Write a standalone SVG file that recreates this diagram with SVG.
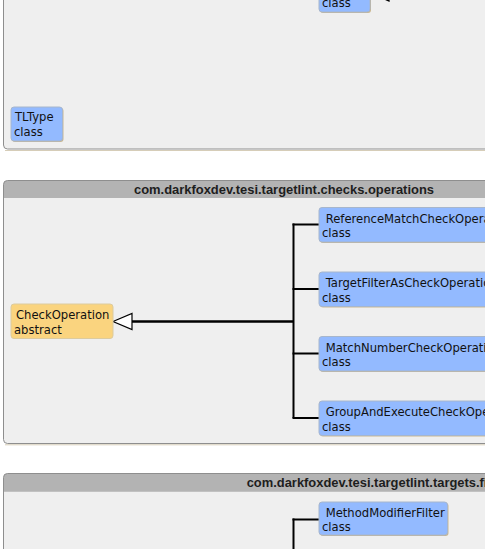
<svg xmlns="http://www.w3.org/2000/svg" width="485" height="549" viewBox="0 0 485 549">
  <defs>
    <style>
      .pkg-body { fill: #efefef; }
      .pkg-head { fill: #b3b3b3; }
      .pkg-frame { fill: none; stroke: #8e8e8e; stroke-width: 1; }
      .pkg-shadow { fill: none; stroke: #d6cdb8; stroke-width: 1; }
      .pkg-title { font-family: "Liberation Sans", "DejaVu Sans", sans-serif; font-weight: bold; font-size: 13px; fill: #1e1e1e; }
      .cls { fill: #93baff; stroke: #a7b6cc; stroke-width: 1; }
      .abs { fill: #fad47f; stroke: #dccb9e; stroke-width: 1; }
      .shadow { fill: #c9b791; }
      .label { font-family: "DejaVu Sans", "Liberation Sans", sans-serif; font-size: 11.6px; fill: #111; }
      .wire { fill: none; stroke: #000; stroke-width: 2; }
      .wire-main { fill: none; stroke: #000; stroke-width: 2.6; }
      .head { fill: #fff; stroke: #000; stroke-width: 1.2; stroke-linejoin: miter; }
    </style>
  </defs>

  <!-- package frames -->
  <g id="pkg-types">
    <path class="pkg-shadow" d="M5,150.5 H600"/>
    <rect class="pkg-body" x="3.5" y="-20" width="600" height="169" rx="4"/>
    <rect class="pkg-frame" x="3.5" y="-20" width="600" height="169" rx="4"/>
  </g>

  <g id="pkg-operations">
    <path class="pkg-shadow" d="M5,444.8 H600"/>
    <rect class="pkg-body" x="3.5" y="180.5" width="600" height="263" rx="4"/>
    <path class="pkg-head" d="M3.5,198 V184.5 A4,4 0 0 1 7.5,180.5 H603.5 V198 Z"/>
    <rect class="pkg-frame" x="3.5" y="180.5" width="600" height="263" rx="4"/>
    <text class="pkg-title" x="134" y="193.5" textLength="300" lengthAdjust="spacingAndGlyphs">com.darkfoxdev.tesi.targetlint.checks.operations</text>
  </g>

  <g id="pkg-filters">
    <rect class="pkg-body" x="3.5" y="473.5" width="600" height="120" rx="4"/>
    <path class="pkg-head" d="M3.5,491.7 V477.5 A4,4 0 0 1 7.5,473.5 H603.5 V491.7 Z"/>
    <rect class="pkg-frame" x="3.5" y="473.5" width="600" height="120" rx="4"/>
    <text class="pkg-title" x="246.7" y="487" textLength="268" lengthAdjust="spacingAndGlyphs">com.darkfoxdev.tesi.targetlint.targets.filters</text>
  </g>

  <!-- connectors -->
  <g id="connectors">
    <!-- inheritance head entering the top package off the edge -->
    <path class="wire" d="M389,-7 H420"/>
    <polygon class="head" points="370,-7 389,-15 389,1"/>

    <!-- CheckOperation subclasses -->
    <path class="wire" d="M293.5,223.5 V418"/>
    <path class="wire" d="M292.5,224.5 H319"/>
    <path class="wire" d="M292.5,289 H319"/>
    <path class="wire" d="M292.5,353.5 H319"/>
    <path class="wire" d="M292.5,418 H319"/>
    <path class="wire-main" d="M131,321.5 H294"/>
    <polygon class="head" points="113,321.5 132,313.5 132,329.5"/>

    <!-- filters trunk -->
    <path class="wire" d="M293.5,518.5 V560"/>
    <path class="wire" d="M292.5,519.5 H319"/>
  </g>

  <!-- nodes -->
  <g id="node-top-class">
    <rect class="shadow" x="320" y="-22" width="51" height="35" rx="3"/>
    <rect class="cls" x="319" y="-23" width="51" height="35" rx="3"/>
    <text class="label" x="322" y="6.5">class</text>
  </g>

  <g id="node-tltype">
    <rect class="shadow" x="12" y="108" width="51.5" height="34" rx="3"/>
    <rect class="cls" x="11" y="107" width="51.5" height="34" rx="3"/>
    <text class="label" x="15" y="121">TLType</text>
    <text class="label" x="14" y="136">class</text>
  </g>

  <g id="node-checkoperation">
    <rect class="abs" x="11" y="304" width="102" height="34.5" rx="3"/>
    <text class="label" x="16" y="318.5">CheckOperation</text>
    <text class="label" x="14" y="334">abstract</text>
  </g>

  <g id="node-referencematch">
    <rect class="shadow" x="320" y="208.5" width="220" height="34.5" rx="3"/>
    <rect class="cls" x="319" y="207.5" width="220" height="34.5" rx="3"/>
    <text class="label" x="322" y="222.5" xml:space="preserve"> ReferenceMatchCheckOperation</text>
    <text class="label" x="322" y="237">class</text>
  </g>

  <g id="node-targetfilteras">
    <rect class="shadow" x="320" y="273" width="220" height="34.5" rx="3"/>
    <rect class="cls" x="319" y="272" width="220" height="34.5" rx="3"/>
    <text class="label" x="322" y="287" xml:space="preserve"> TargetFilterAsCheckOperation</text>
    <text class="label" x="322" y="301.5">class</text>
  </g>

  <g id="node-matchnumber">
    <rect class="shadow" x="320" y="337.5" width="220" height="34.5" rx="3"/>
    <rect class="cls" x="319" y="336.5" width="220" height="34.5" rx="3"/>
    <text class="label" x="322" y="351.5" xml:space="preserve"> MatchNumberCheckOperation</text>
    <text class="label" x="322" y="366">class</text>
  </g>

  <g id="node-groupandexecute">
    <rect class="shadow" x="320" y="402" width="220" height="34.5" rx="3"/>
    <rect class="cls" x="319" y="401" width="220" height="34.5" rx="3"/>
    <text class="label" x="322" y="416" xml:space="preserve"> GroupAndExecuteCheckOperation</text>
    <text class="label" x="322" y="430.5">class</text>
  </g>

  <g id="node-methodmodifierfilter">
    <rect class="shadow" x="320" y="503" width="128.5" height="33" rx="3"/>
    <rect class="cls" x="319" y="502" width="128.5" height="33" rx="3"/>
    <text class="label" x="322" y="516.5" xml:space="preserve"> MethodModifierFilter</text>
    <text class="label" x="322" y="531">class</text>
  </g>
</svg>
